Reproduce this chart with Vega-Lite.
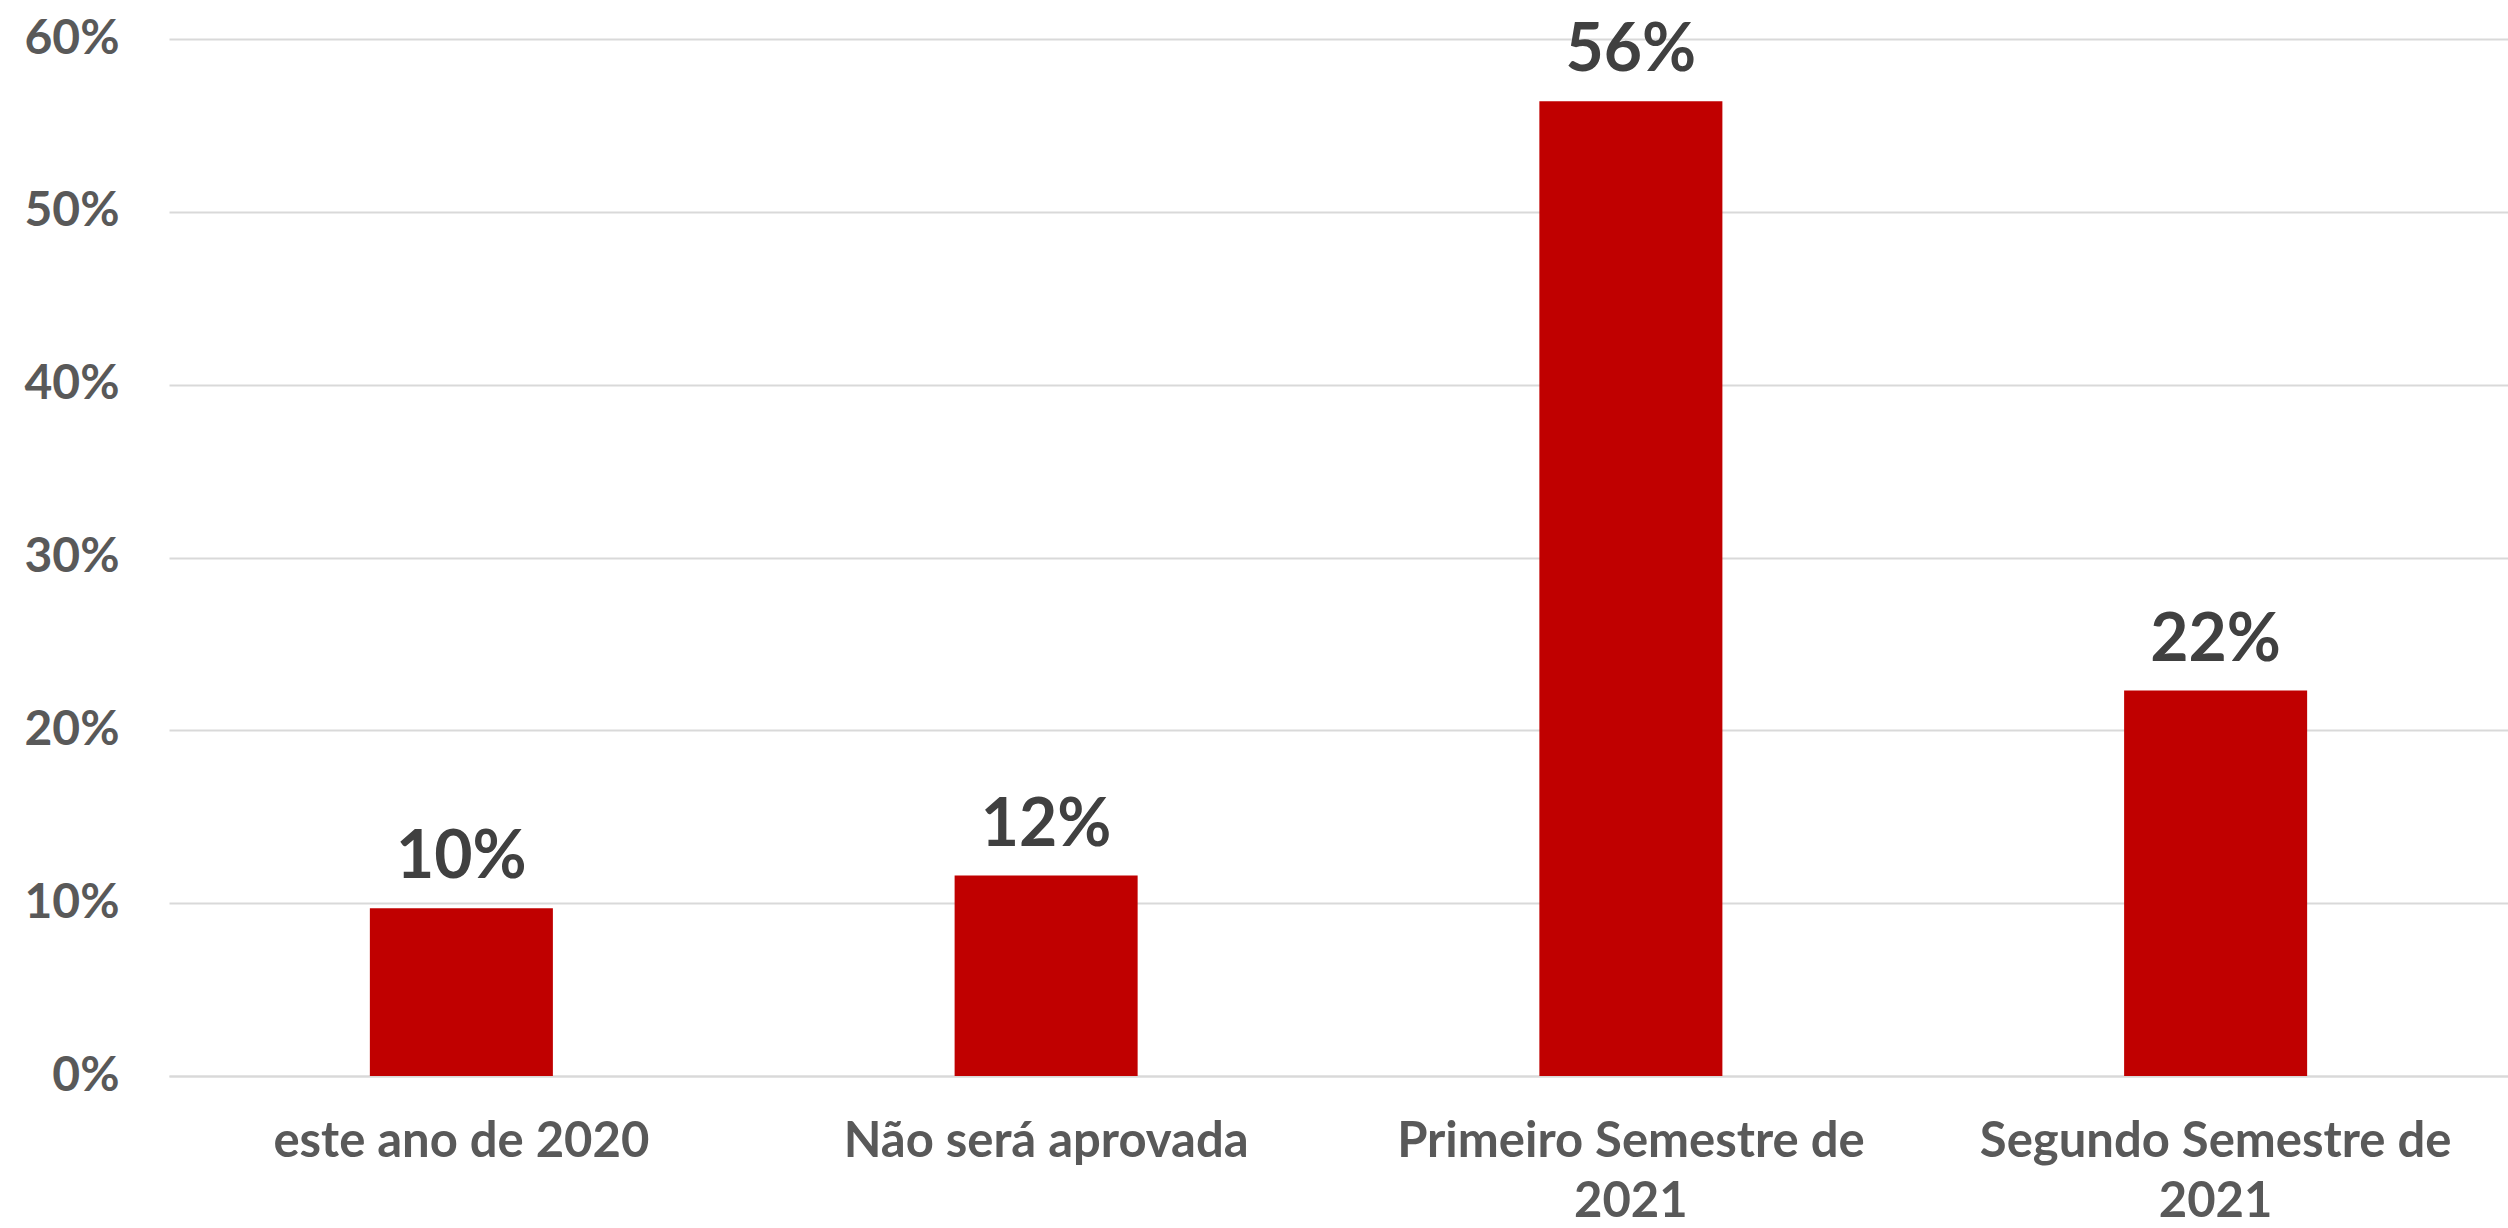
{
  "$schema": "https://vega.github.io/schema/vega-lite/v6.json",
  "width": 2339,
  "height": 1037,
  "autosize": {"type": "none"},
  "padding": {"left": 169, "top": 39, "right": 0, "bottom": 152},
  "background": "white",
  "data": {
    "values": [
      {"categoria": "este ano de 2020", "valor": 0.097},
      {"categoria": "Não será aprovada", "valor": 0.116},
      {"categoria": "Primeiro Semestre de 2021", "valor": 0.564},
      {"categoria": "Segundo Semestre de 2021", "valor": 0.223}
    ]
  },
  "config": {
    "view": {"stroke": null},
    "font": "Lato"
  },
  "encoding": {
    "x": {
      "field": "categoria",
      "type": "nominal",
      "sort": null,
      "scale": {"paddingInner": 0.687, "paddingOuter": 0.3435},
      "axis": {
        "title": null,
        "labelAngle": 0,
        "labelFont": "Lato",
        "labelFontWeight": "bold",
        "labelFontSize": 49,
        "labelColor": "#595959",
        "labelPadding": 41,
        "labelLineHeight": 60,
        "labelLimit": 600,
        "labelExpr": "length(datum.label) > 18 ? [substring(datum.label, 0, lastindexof(datum.label, ' ')), substring(datum.label, lastindexof(datum.label, ' ') + 1)] : datum.label",
        "ticks": false,
        "domainColor": "#d9d9d9",
        "domainWidth": 2,
        "grid": false
      }
    },
    "y": {
      "field": "valor",
      "type": "quantitative",
      "scale": {"domain": [0, 0.6], "nice": false},
      "axis": {
        "title": null,
        "format": ".0%",
        "values": [0, 0.1, 0.2, 0.3, 0.4, 0.5, 0.6],
        "labelFont": "Lato",
        "labelFontWeight": "bold",
        "labelFontSize": 48,
        "labelColor": "#595959",
        "labelPadding": 50,
        "ticks": false,
        "domain": false,
        "grid": true,
        "gridColor": "#d9d9d9",
        "gridWidth": 2
      }
    }
  },
  "layer": [
    {"mark": {"type": "bar", "color": "#c00000"}},
    {
      "mark": {
        "type": "text",
        "baseline": "alphabetic",
        "dy": -30,
        "font": "Lato",
        "fontWeight": "bold",
        "fontSize": 66,
        "color": "#404040"
      },
      "encoding": {
        "text": {"field": "valor", "type": "quantitative", "format": ".0%"}
      }
    }
  ]
}
